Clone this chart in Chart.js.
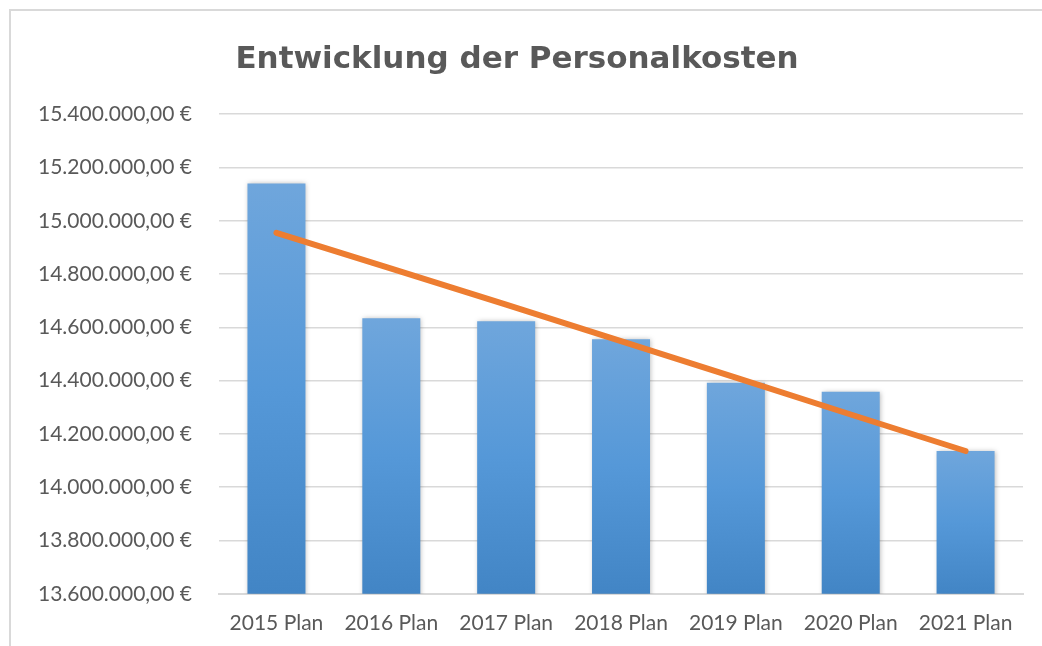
<!DOCTYPE html>
<html lang="de">
<head>
<meta charset="utf-8">
<title>Entwicklung der Personalkosten</title>
<script src="https://cdn.jsdelivr.net/npm/chart.js@4/dist/chart.umd.min.js"></script>
<style>
    html, body { margin: 0; padding: 0; background: #fff; overflow: hidden; }
    .frame {
        position: absolute;
        left: 9px;
        top: 9px;
        width: 1040px;
        height: 660px;
        border-left: 2px solid #d9d9d9;
        border-top: 2px solid #d9d9d9;
    }
    .chart-box { position: relative; width: 1031px; height: 652px; }
</style>
</head>
<body>
<div class="frame">
    <div class="chart-box">
        <canvas id="costChart"></canvas>
    </div>
</div>
<script>
// values
const categories = ['2015 Plan', '2016 Plan', '2017 Plan', '2018 Plan', '2019 Plan', '2020 Plan', '2021 Plan'];
const personnelCosts = [15140000, 14634000, 14623000, 14555000, 14392000, 14358000, 14136000];
const trendValues = [14955000, 14820000, 14685000, 14548000, 14411000, 14273000, 14136000];
const yMin = 13600000;
const yMax = 15400000;
const yStep = 200000;

const textColor = '#595959';
const gridColor = '#d9d9d9';

function formatEuro(value) {
    const parts = Math.round(value).toString().replace(/\B(?=(\d{3})+(?!\d))/g, '.');
    return parts + ',00 €';
}

// each bar gets its own light-to-dark gradient, like the Excel fill
function barGradient(context) {
    const chart = context.chart;
    if (!chart.chartArea || !chart.scales.y) return '#5b9bd5';
    const value = context.raw;
    const top = chart.scales.y.getPixelForValue(value);
    const bottom = chart.scales.y.bottom;
    const g = chart.ctx.createLinearGradient(0, top, 0, bottom);
    g.addColorStop(0, '#6fa6dc');
    g.addColorStop(0.5, '#5598d8');
    g.addColorStop(1, '#4285c5');
    return g;
}

const barShadow = {
    id: 'barShadow',
    beforeDatasetDraw(chart, args) {
        if (args.meta.type !== 'bar') return;
        chart.ctx.save();
        chart.ctx.shadowColor = 'rgba(0,0,0,0.28)';
        chart.ctx.shadowBlur = 5;
        chart.ctx.shadowOffsetX = 1;
        chart.ctx.shadowOffsetY = 0;
    },
    afterDatasetDraw(chart, args) {
        if (args.meta.type !== 'bar') return;
        chart.ctx.restore();
    }
};

const ctx = document.getElementById('costChart').getContext('2d');

new Chart(ctx, {
    data: {
        labels: categories,
        datasets: [
            {
                type: 'line',
                label: 'Trend',
                data: trendValues,
                borderColor: '#ed7d31',
                borderWidth: 6,
                borderCapStyle: 'round',
                pointRadius: 0,
                tension: 0,
                fill: false,
                order: 0
            },
            {
                type: 'bar',
                label: 'Personalkosten',
                data: personnelCosts,
                backgroundColor: barGradient,
                borderWidth: 0,
                categoryPercentage: 1.0,
                barPercentage: 0.505,
                order: 1
            }
        ]
    },
    options: {
        responsive: true,
        maintainAspectRatio: false,
        animation: false,
        layout: { padding: { left: 0, right: 19, top: 18, bottom: 10 } },
        plugins: {
            legend: { display: false },
            tooltip: { enabled: false },
            title: {
                display: true,
                text: 'Entwicklung der Personalkosten',
                color: textColor,
                font: { family: 'DejaVu Sans', size: 31, weight: 'bold' },
                padding: { top: 12, bottom: 36 }
            }
        },
        scales: {
            x: {
                grid: { display: false, drawTicks: false },
                border: { color: gridColor, width: 2 },
                ticks: {
                    color: textColor,
                    font: { family: 'Lato', size: 21 },
                    padding: 17,
                    maxRotation: 0
                }
            },
            y: {
                min: yMin,
                max: yMax,
                ticks: {
                    stepSize: yStep,
                    color: textColor,
                    font: { family: 'Lato', size: 21 },
                    padding: 27,
                    callback: function (value) { return formatEuro(value); }
                },
                grid: { color: gridColor, lineWidth: 1.5, drawTicks: false },
                border: { display: false }
            }
        }
    },
    plugins: [barShadow]
});
</script>
</body>
</html>
